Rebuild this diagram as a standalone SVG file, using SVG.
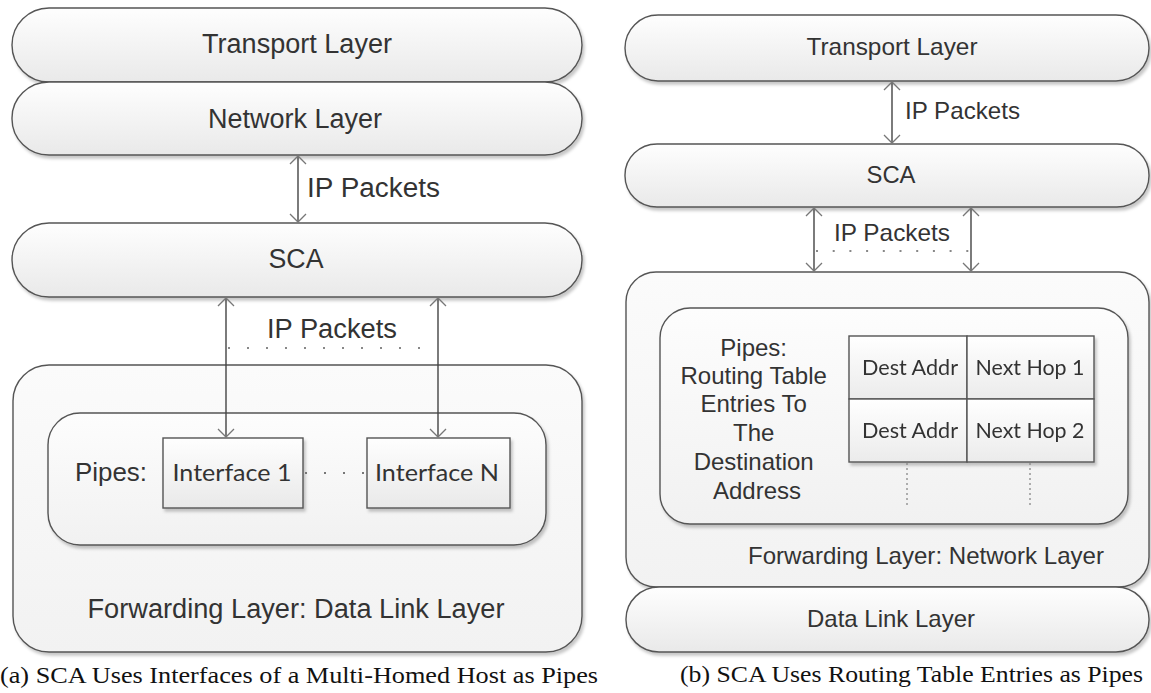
<svg xmlns="http://www.w3.org/2000/svg" width="1151" height="693" viewBox="0 0 1151 693">
<defs>
<linearGradient id="gPill" x1="0" y1="0" x2="0" y2="1">
<stop offset="0" stop-color="#fefefe"/><stop offset="1" stop-color="#e9e9e9"/>
</linearGradient>
<linearGradient id="gOuter" x1="0" y1="0" x2="0" y2="1">
<stop offset="0" stop-color="#fbfbfb"/><stop offset="1" stop-color="#f2f2f2"/>
</linearGradient>
<linearGradient id="gInner" x1="0" y1="0" x2="0" y2="1">
<stop offset="0" stop-color="#fdfdfd"/><stop offset="1" stop-color="#f1f1f1"/>
</linearGradient>
<linearGradient id="gCell" x1="0" y1="0" x2="0" y2="1">
<stop offset="0" stop-color="#ffffff"/><stop offset="1" stop-color="#ebebeb"/>
</linearGradient>
<filter id="sh" x="-5%" y="-10%" width="112%" height="130%">
<feDropShadow dx="2" dy="3" stdDeviation="1.8" flood-color="#000" flood-opacity="0.22"/>
</filter>
<marker id="ah" markerUnits="userSpaceOnUse" viewBox="-10 -10 12 20" refX="0" refY="0" markerWidth="12" markerHeight="20" orient="auto-start-reverse">
<path d="M-8,-8 L0,0 L-8,8" fill="none" stroke="#777" stroke-width="1.3"/>
</marker>
</defs>
<style>
.box{stroke:#555;stroke-width:1.4;filter:url(#sh)}
.pill{fill:url(#gPill)}
.outer{fill:url(#gOuter)}
.inner{fill:url(#gInner)}
.cell{fill:url(#gCell);stroke:#555;stroke-width:1.4}
.t{font-family:"Liberation Sans",Arial,sans-serif;fill:#333;text-anchor:middle}
.c{font-family:Lato,"Open Sans",sans-serif;fill:#333;text-anchor:middle}
.cap{font-family:"Liberation Serif","DejaVu Serif",serif;fill:#111;font-size:24px}
.arr{stroke:#444;stroke-width:1.4;fill:none;marker-start:url(#ah);marker-end:url(#ah)}
.dot{stroke:#888;stroke-width:2.2;fill:none;stroke-linecap:butt}
</style>

<rect width="1151" height="693" fill="#ffffff"/>

<!-- Left panel (a) -->
<g id="a-transport">
<rect class="box pill" x="12" y="8" width="570" height="74" rx="37" ry="37"/>
<text class="t" x="297" y="53" font-size="27" textLength="190" lengthAdjust="spacingAndGlyphs">Transport Layer</text>
</g>
<g id="a-network">
<rect class="box pill" x="12" y="82" width="570" height="73" rx="37" ry="36"/>
<text class="t" x="295" y="128" font-size="27" textLength="174" lengthAdjust="spacingAndGlyphs">Network Layer</text>
</g>
<g id="a-sca">
<rect class="box pill" x="12" y="223" width="570" height="74" rx="37" ry="37"/>
<text class="t" x="296" y="268" font-size="27" textLength="55" lengthAdjust="spacingAndGlyphs">SCA</text>
</g>
<g id="a-forwarding">
<rect class="box outer" x="13" y="365" width="569" height="287" rx="36" ry="36"/>
<text class="t" x="296" y="618" font-size="27" textLength="417" lengthAdjust="spacingAndGlyphs">Forwarding Layer: Data Link Layer</text>
</g>
<g id="a-pipes">
<rect class="box inner" x="48" y="413" width="498" height="132" rx="32" ry="32"/>
<text class="t" x="111" y="481" font-size="26" textLength="72" lengthAdjust="spacingAndGlyphs">Pipes:</text>
</g>
<g id="a-if1">
<rect class="box pill" x="163" y="438" width="140" height="70"/>
<text class="c" x="232" y="481" font-size="24" textLength="119" lengthAdjust="spacingAndGlyphs">Interface 1</text>
</g>
<g id="a-ifn">
<rect class="box pill" x="367" y="438" width="143" height="70"/>
<text class="c" x="437" y="481" font-size="24" textLength="124" lengthAdjust="spacingAndGlyphs">Interface N</text>
</g>
<g id="a-labels">
<text class="t" x="307" y="197" font-size="27" style="text-anchor:start" textLength="133" lengthAdjust="spacingAndGlyphs">IP Packets</text>
<text class="t" x="332" y="338" font-size="27" textLength="130" lengthAdjust="spacingAndGlyphs">IP Packets</text>
</g>
<text class="cap" x="0" y="683" textLength="598" lengthAdjust="spacingAndGlyphs">(a) SCA Uses Interfaces of a Multi-Homed Host as Pipes</text>

<!-- Right panel (b) -->
<g id="b-transport">
<rect class="box pill" x="625" y="15" width="524" height="66" rx="33" ry="33"/>
<text class="t" x="892" y="55" font-size="24" textLength="171" lengthAdjust="spacingAndGlyphs">Transport Layer</text>
</g>
<g id="b-sca">
<rect class="box pill" x="625" y="144" width="524" height="63" rx="32" ry="31"/>
<text class="t" x="891" y="183" font-size="24" textLength="49" lengthAdjust="spacingAndGlyphs">SCA</text>
</g>
<g id="b-forwarding">
<rect class="box outer" x="626" y="272" width="523" height="315" rx="30" ry="30"/>
<text class="t" x="926" y="564" font-size="24" textLength="356" lengthAdjust="spacingAndGlyphs">Forwarding Layer: Network Layer</text>
</g>
<g id="b-datalink">
<rect class="box pill" x="626" y="587" width="523" height="65" rx="33" ry="32"/>
<text class="t" x="891" y="627" font-size="24" textLength="168" lengthAdjust="spacingAndGlyphs">Data Link Layer</text>
</g>
<g id="b-pipes">
<rect class="box inner" x="660" y="308" width="468" height="216" rx="30" ry="30"/>
<text class="t" font-size="24">
<tspan x="757" y="356">Pipes:</tspan>
<tspan x="757" y="384">Routing Table</tspan>
<tspan x="757" y="412">Entries To</tspan>
<tspan x="757" y="441">The</tspan>
<tspan x="757" y="470">Destination</tspan>
<tspan x="757" y="499">Address</tspan>
</text>
</g>
<g id="b-table" filter="url(#sh)">
<rect class="cell" x="849" y="336" width="118" height="63"/>
<rect class="cell" x="967" y="336" width="127" height="63"/>
<rect class="cell" x="849" y="399" width="118" height="63"/>
<rect class="cell" x="967" y="399" width="127" height="63"/>
<text class="c" x="910" y="375" font-size="22" textLength="96" lengthAdjust="spacingAndGlyphs">Dest Addr</text>
<text class="c" x="1030" y="375" font-size="22" textLength="109" lengthAdjust="spacingAndGlyphs">Next Hop 1</text>
<text class="c" x="910" y="438" font-size="22" textLength="96" lengthAdjust="spacingAndGlyphs">Dest Addr</text>
<text class="c" x="1030" y="438" font-size="22" textLength="109" lengthAdjust="spacingAndGlyphs">Next Hop 2</text>
</g>
<g id="b-labels">
<text class="t" x="905" y="119" font-size="24" style="text-anchor:start" textLength="115" lengthAdjust="spacingAndGlyphs">IP Packets</text>
<text class="t" x="892" y="241" font-size="24" textLength="116" lengthAdjust="spacingAndGlyphs">IP Packets</text>
</g>
<text class="cap" x="680" y="682" textLength="463" lengthAdjust="spacingAndGlyphs">(b) SCA Uses Routing Table Entries as Pipes</text>

<!-- Connectors -->
<g id="connectors">
<line class="arr" x1="298" y1="156" x2="298" y2="222"/>
<line class="arr" x1="226" y1="298" x2="226" y2="437"/>
<line class="arr" x1="438" y1="298" x2="438" y2="437"/>
<line class="dot" x1="228" y1="348" x2="421" y2="348" stroke-dasharray="2 17"/>
<line class="dot" x1="305" y1="473" x2="366" y2="473" stroke-dasharray="2 17" style="stroke:#777"/>
<line class="arr" x1="892" y1="82" x2="892" y2="143"/>
<line class="arr" x1="814" y1="208" x2="814" y2="271"/>
<line class="arr" x1="971" y1="208" x2="971" y2="271"/>
<line class="dot" x1="816" y1="251" x2="970" y2="251" stroke-dasharray="2 14.7"/>
<line class="dot" x1="907" y1="463" x2="907" y2="508" stroke-dasharray="2 3" style="stroke-width:1.3"/>
<line class="dot" x1="1030" y1="463" x2="1030" y2="508" stroke-dasharray="2 3" style="stroke-width:1.3"/>
</g>
</svg>
